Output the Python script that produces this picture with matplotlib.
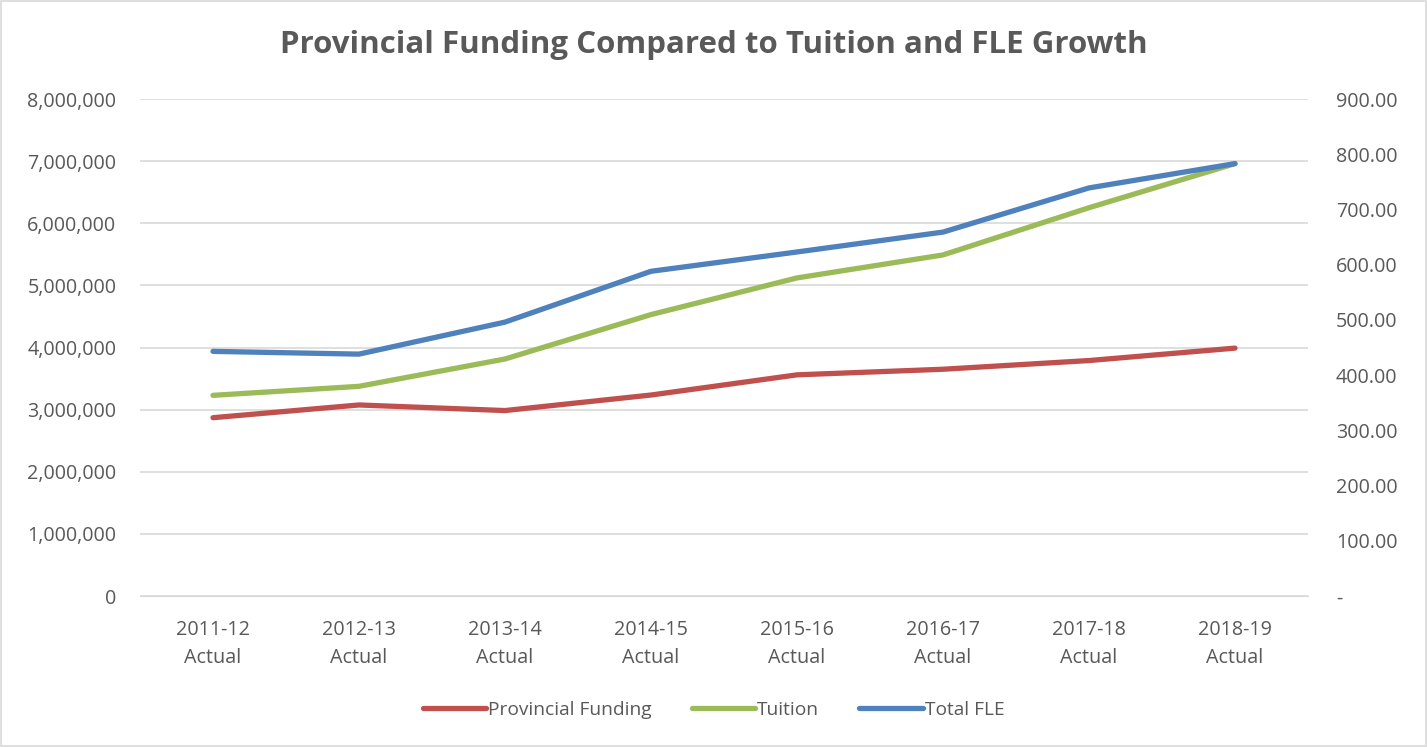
import numpy as np
import matplotlib.pyplot as plt
from matplotlib.ticker import FuncFormatter

# data
years = ['2011-12\nActual', '2012-13\nActual', '2013-14\nActual', '2014-15\nActual',
         '2015-16\nActual', '2016-17\nActual', '2017-18\nActual', '2018-19\nActual']
provincial = [2870000, 3075000, 2985000, 3235000, 3560000, 3650000, 3790000, 3990000]
tuition = [3230000, 3375000, 3815000, 4530000, 5120000, 5490000, 6250000, 6960000]
total_fle = [443, 438, 496, 588, 623, 659, 739, 783]

red = '#C0504D'
green = '#9BBB59'
blue = '#4F81BD'
txt = '#595959'

plt.rcParams['font.family'] = ['Open Sans', 'DejaVu Sans']

fig = plt.figure(figsize=(14.27, 7.47), dpi=100)
ax = fig.add_axes([140/1427, 1-596/747, 1168/1427, 497/747])
ax2 = ax.twinx()

x = np.arange(len(years))
l1, = ax.plot(x, provincial, color=red, lw=3.8, solid_capstyle='round', label='Provincial Funding')
l2, = ax.plot(x, tuition, color=green, lw=3.8, solid_capstyle='round', label='Tuition')
l3, = ax2.plot(x, total_fle, color=blue, lw=3.8, solid_capstyle='round', label='Total FLE')

ax.set_xlim(-0.5, 7.5)
ax.set_ylim(0, 8000000)
ax.set_yticks(np.arange(0, 8000001, 1000000))
ax.yaxis.set_major_formatter(FuncFormatter(lambda v, p: f'{int(v):,}'))
ax2.set_ylim(0, 900)
ax2.set_yticks(np.arange(0, 901, 100))
ax2.yaxis.set_major_formatter(FuncFormatter(lambda v, p: '-' if v == 0 else f'{v:.2f}'))

ax.set_xticks(x)
ax.set_xticklabels(years, linespacing=1.55)
ax.grid(axis='y', color='#d9d9d9', lw=1.2)
ax.set_axisbelow(True)

for a in (ax, ax2):
    for s in ['top', 'left', 'right', 'bottom']:
        a.spines[s].set_visible(False)
    a.tick_params(length=0, labelsize=14.2, colors=txt)
ax.spines['bottom'].set_visible(True)
ax.spines['bottom'].set_color('#d9d9d9')
ax.tick_params(axis='x', pad=17)
ax.tick_params(axis='y', pad=17)
ax2.tick_params(axis='y', pad=20)

fig.suptitle('Provincial Funding Compared to Tuition and FLE Growth', x=0.5, y=0.96,
             fontsize=22.5, fontweight='bold', color=txt)

fig.legend(handles=[l1, l2, l3], loc='center', bbox_to_anchor=(0.5, 1-710/747), ncol=3,
           frameon=False, fontsize=13.8, labelcolor=txt, handlelength=3.3,
           handletextpad=0.1, columnspacing=2.1)

fig.patches.append(plt.Rectangle((0.001, 0.001), 0.998, 0.998, transform=fig.transFigure,
                                 fill=False, edgecolor='#d9d9d9', lw=1.2))

fig.savefig('out.png', dpi=100)
